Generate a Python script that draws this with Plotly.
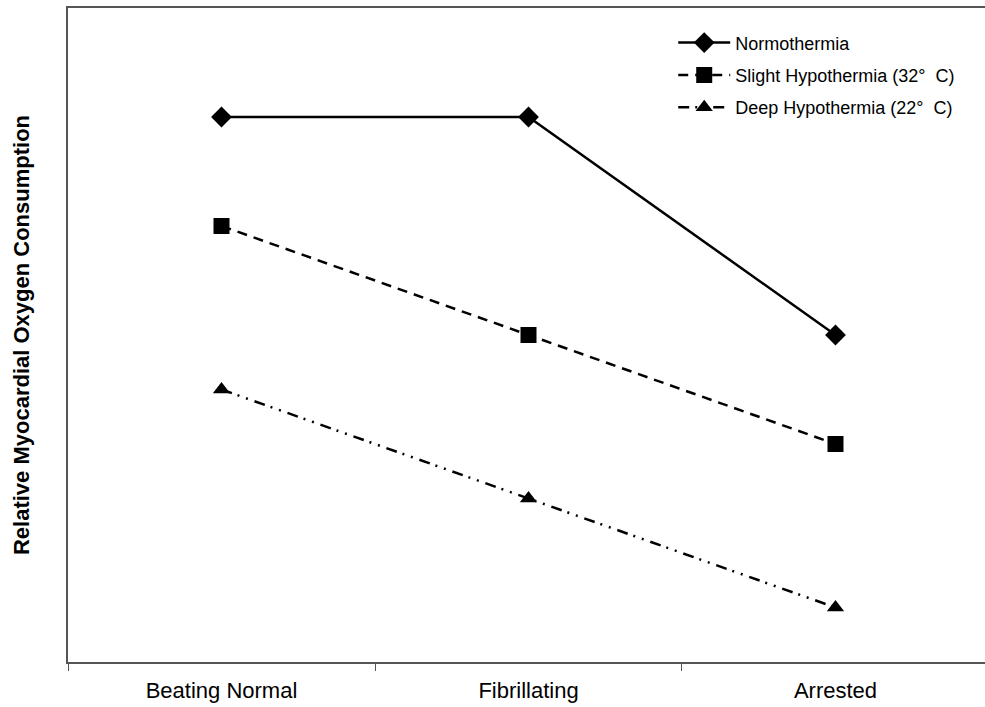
import plotly.graph_objects as go

categories = ["Beating Normal", "Fibrillating", "Arrested"]
normothermia = [5, 5, 3]
slight_hypo = [4, 3, 2]
deep_hypo = [2.5, 1.5, 0.5]
names = ["Normothermia", "Slight Hypothermia (32°  C)", "Deep Hypothermia (22°  C)"]

fig = go.Figure()
fig.add_trace(go.Scatter(x=categories, y=normothermia, name=names[0], legendgroup="a",
                         mode="lines+markers",
                         line=dict(color="black", width=2.5, dash="solid"),
                         marker=dict(symbol="diamond", size=16, color="black")))
fig.add_trace(go.Scatter(x=categories, y=slight_hypo, name=names[1], legendgroup="b",
                         mode="lines+markers",
                         line=dict(color="black", width=2.5, dash="10px,7px"),
                         marker=dict(symbol="square", size=16, color="black")))
fig.add_trace(go.Scatter(x=categories, y=deep_hypo, name=names[2], legendgroup="c",
                         mode="lines+markers",
                         line=dict(color="black", width=2.5, dash="11px,6px,2px,7px,2px,7px"),
                         marker=dict(symbol="triangle-up", size=15, color="black")))

fig.update_layout(
    width=985, height=707,
    margin=dict(l=68, r=0, t=8, b=45),
    paper_bgcolor="white", plot_bgcolor="white",
    font=dict(family="Liberation Sans, Arial, sans-serif", color="black"),
    showlegend=True,
    legend=dict(x=0.66, y=0.975, xanchor="left", yanchor="top",
                font=dict(size=18), tracegroupgap=6,
                bgcolor="rgba(0,0,0,0)", itemwidth=52),
    xaxis=dict(type="category", range=[-0.5, 2.487], tickson="boundaries",
               ticks="outside", ticklen=7, tickcolor="#555", tickwidth=1,
               showline=True, linecolor="#555", linewidth=2, mirror=True,
               showgrid=False, zeroline=False, tickfont=dict(size=22),
               ticklabelstandoff=8),
    yaxis=dict(range=[0, 6], showticklabels=False, ticks="", showgrid=False,
               zeroline=False, showline=True, linecolor="#555", linewidth=2,
               title=dict(text="<b>Relative Myocardial Oxygen Consumption</b>",
                          font=dict(size=22), standoff=30)),
)

fig.write_html("out.html", config={"displayModeBar": False},
               post_script="document.body.style.margin='0';document.body.style.overflow='hidden';")
